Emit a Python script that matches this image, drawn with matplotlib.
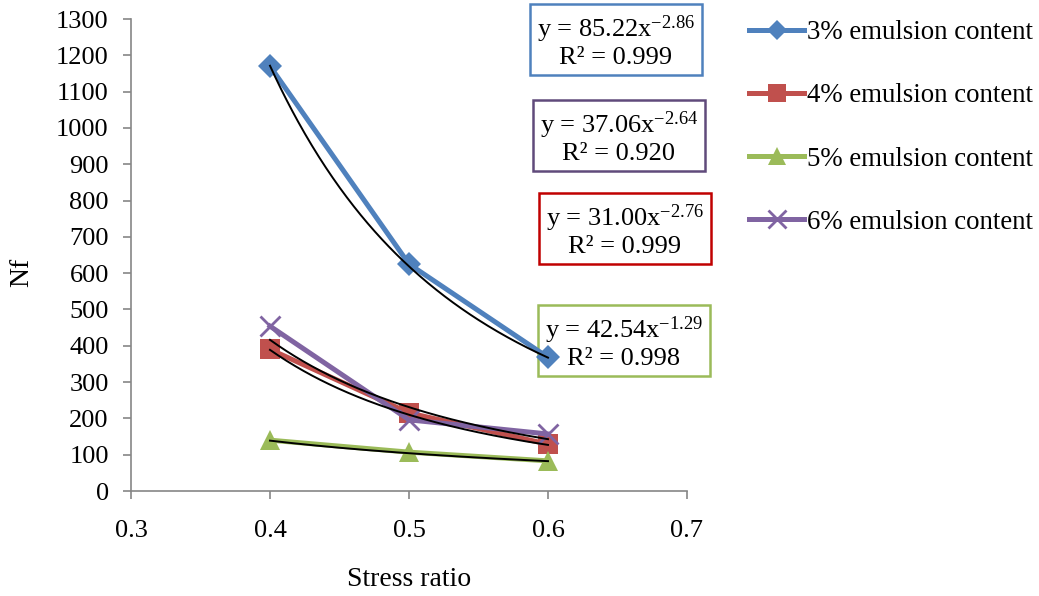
import numpy as np
import matplotlib
matplotlib.use("Agg")
import matplotlib.pyplot as plt

plt.rcParams['font.family'] = ['Liberation Serif', 'DejaVu Serif']
plt.rcParams['mathtext.fontset'] = 'custom'
plt.rcParams['mathtext.rm'] = 'Liberation Serif'
plt.rcParams['mathtext.it'] = 'Liberation Serif:italic'

# ---- data ----
stress_ratio = [0.4, 0.5, 0.6]
labels = ["3% emulsion content", "4% emulsion content",
          "5% emulsion content", "6% emulsion content"]
nf_3 = [1170, 625, 368]
nf_4 = [390, 215, 129]
nf_5 = [140, 107, 83]
nf_6 = [454, 196, 157]
# power trendline coefficients y = a * x^b
coef_a = [85.22, 31.00, 42.54, 37.06]
coef_b = [-2.86, -2.76, -1.29, -2.64]
r2 = ["0.999", "0.999", "0.998", "0.920"]
x_ticks = [0.3, 0.4, 0.5, 0.6, 0.7]
y_ticks = list(range(0, 1301, 100))

colors = ['#4F81BD', '#C0504D', '#9BBB59', '#8064A2']
box_colors = ['#4F81BD', '#C00000', '#9BBB59', '#604A7B']
markers = ['D', 's', '^', 'x']
msizes = [12, 15, 15, 15]
FS = 19

fig = plt.figure(figsize=(10.39, 5.96), dpi=100)
ax = fig.add_axes([131/1039, 1-491/596, (687-131)/1039, (491-19)/596])

series = [nf_3, nf_4, nf_5, nf_6]
for s, c, m, ms, lab in zip(series, colors, markers, msizes, labels):
    ax.plot(stress_ratio, s, color=c, lw=3.6, marker=m, markersize=ms,
            markeredgewidth=2 if m == 'x' else 0, markeredgecolor=c,
            markerfacecolor=c, label=lab, zorder=2, clip_on=False)

xs = np.linspace(stress_ratio[0], stress_ratio[-1], 200)
for a, b in zip(coef_a, coef_b):
    ax.plot(xs, a * xs ** b, color='black', lw=1.4, zorder=3)

ax.set_xlim(0.3, 0.7)
ax.set_ylim(0, 1300)
ax.set_xticks(x_ticks)
ax.set_xticklabels([f"{v:.1f}" for v in x_ticks])
ax.set_yticks(y_ticks)
for sp in ['top', 'right']:
    ax.spines[sp].set_visible(False)
for sp in ['left', 'bottom']:
    ax.spines[sp].set_color('#868686')
    ax.spines[sp].set_linewidth(1.2)
ax.tick_params(axis='both', colors='#868686', labelcolor='black',
               labelsize=FS, width=1.2, length=6, direction='out')
ax.tick_params(axis='x', pad=15)
ax.tick_params(axis='y', pad=10)

fig.text(22/1039, 1-272/596, "Nf", rotation=90, fontsize=FS + 1,
         ha='center', va='center')
fig.text(409/1039, 1-580/596, "Stress ratio", fontsize=FS + 1,
         ha='center', va='center')

# equation boxes (order: 3%, 6%, 4%, 5%)
box_pos = [(616, 41, 0), (619, 137, 3), (625, 230, 1), (624, 342, 2)]
for cx, cy, i in box_pos:
    txt = ("y = %.2fx$^{\\mathrm{%.2f}}$\nR² = %s" % (coef_a[i], coef_b[i], r2[i]))
    ax.text(cx/1039, 1-cy/596, txt, fontsize=FS, ha='center', va='center',
            transform=fig.transFigure, clip_on=False, zorder=1.5,
            multialignment='center', linespacing=1.1,
            bbox=dict(boxstyle='square,pad=0.25', fc='white',
                      ec=box_colors[i], lw=1.8))

leg = ax.legend(loc='upper left', bbox_to_anchor=(749/1039, 1-20/596),
                bbox_transform=fig.transFigure, frameon=False,
                fontsize=FS + 0.4, labelspacing=1.42, handlelength=2.05,
                handletextpad=0.1, borderaxespad=0, borderpad=0)
for h in leg.legend_handles:
    h.set_markersize(h.get_markersize() * 0.85)

fig.savefig("out.png", dpi=100)
